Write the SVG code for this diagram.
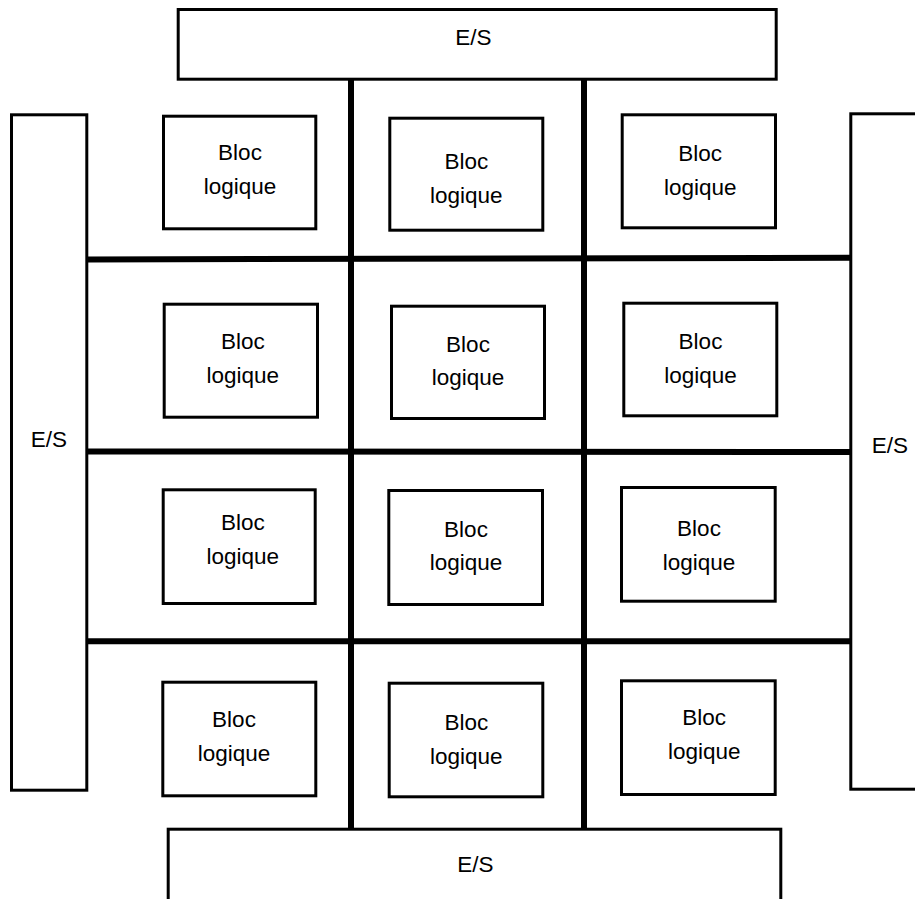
<svg xmlns="http://www.w3.org/2000/svg" width="915" height="899" viewBox="0 0 915 899">
<style>
.box{fill:#fff;stroke:#000;stroke-width:3}
.bus{stroke:#000;stroke-width:6;fill:none}
text{font-family:"Liberation Sans",Arial,sans-serif;font-size:22.5px;fill:#000;text-anchor:middle}
</style>
<rect width="915" height="899" fill="#fff"/>
<g id="connectors">
<line class="bus" x1="351" y1="80" x2="351" y2="828"/>
<line class="bus" x1="584" y1="80" x2="584" y2="828"/>
<line class="bus" x1="88" y1="259.5" x2="850" y2="257.7"/>
<line class="bus" x1="88" y1="451.5" x2="850" y2="452"/>
<line class="bus" x1="88" y1="641.3" x2="850" y2="641.3"/>
</g>
<g id="es-top"><rect class="box" x="178.2" y="9.5" width="598" height="69.7"/><text x="473.3" y="45">E/S</text></g>
<g id="es-left"><rect class="box" x="11.5" y="114.8" width="75.3" height="675.4"/><text x="48.8" y="446.7">E/S</text></g>
<g id="es-right"><rect class="box" x="850.8" y="113.8" width="100" height="675.4"/><text x="890" y="453.3">E/S</text></g>
<g id="es-bottom"><rect class="box" x="168.2" y="829.2" width="612.6" height="100"/><text x="475.5" y="871.7">E/S</text></g>
<g id="b11"><rect class="box" x="163.5" y="116.2" width="152.3" height="112.6"/><text x="240" y="160">Bloc</text><text x="240" y="193.5">logique</text></g>
<g id="b12"><rect class="box" x="389.8" y="118.2" width="153" height="112"/><text x="466.3" y="169">Bloc</text><text x="466.3" y="202.5">logique</text></g>
<g id="b13"><rect class="box" x="622.2" y="114.8" width="153.3" height="113"/><text x="700.2" y="161">Bloc</text><text x="700.2" y="194.5">logique</text></g>
<g id="b21"><rect class="box" x="164.2" y="304.2" width="153.3" height="113"/><text x="242.8" y="349.3">Bloc</text><text x="242.8" y="382.8">logique</text></g>
<g id="b22"><rect class="box" x="391.5" y="306.2" width="153" height="112.3"/><text x="468" y="351.7">Bloc</text><text x="468" y="385.2">logique</text></g>
<g id="b23"><rect class="box" x="623.8" y="303.2" width="153" height="112.6"/><text x="700.5" y="349">Bloc</text><text x="700.5" y="382.5">logique</text></g>
<g id="b31"><rect class="box" x="163.2" y="489.8" width="152" height="113.7"/><text x="242.8" y="530">Bloc</text><text x="242.8" y="563.5">logique</text></g>
<g id="b32"><rect class="box" x="388.8" y="490.5" width="153.7" height="114"/><text x="466" y="536.7">Bloc</text><text x="466" y="570.2">logique</text></g>
<g id="b33"><rect class="box" x="621.5" y="487.5" width="153.7" height="113.7"/><text x="699" y="536">Bloc</text><text x="699" y="569.5">logique</text></g>
<g id="b41"><rect class="box" x="162.8" y="682.2" width="153" height="113.6"/><text x="234" y="727">Bloc</text><text x="234" y="760.5">logique</text></g>
<g id="b42"><rect class="box" x="389.2" y="683.2" width="153.6" height="113.6"/><text x="466.3" y="730">Bloc</text><text x="466.3" y="763.5">logique</text></g>
<g id="b43"><rect class="box" x="621.5" y="680.8" width="153.7" height="113.7"/><text x="704.2" y="725">Bloc</text><text x="704.2" y="758.5">logique</text></g>
</svg>
